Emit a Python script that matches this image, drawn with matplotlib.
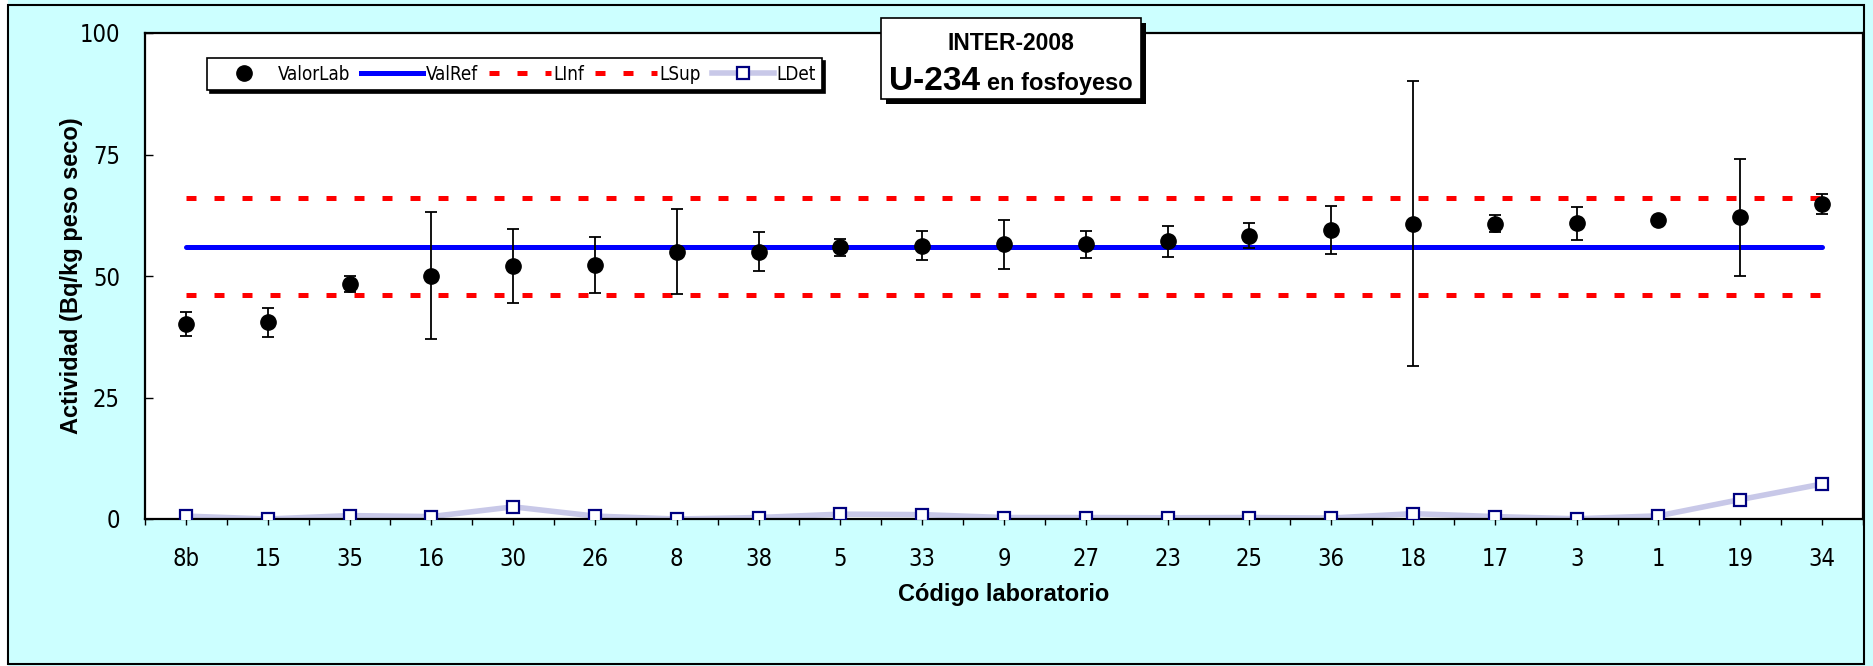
import matplotlib
matplotlib.use("Agg")
import matplotlib.pyplot as plt
from matplotlib import font_manager
from matplotlib.font_manager import FontProperties
from matplotlib.lines import Line2D
from matplotlib.patches import Rectangle
import numpy as np

labs = ["8b", "15", "35", "16", "30", "26", "8", "38", "5", "33", "9",
        "27", "23", "25", "36", "18", "17", "3", "1", "19", "34"]
valor_lab = [40.1, 40.5, 48.4, 50.1, 52.0, 52.3, 55.0, 55.0, 55.9, 56.2, 56.5,
             56.5, 57.1, 58.3, 59.5, 60.8, 60.8, 60.9, 61.5, 62.1, 64.8]
incert = [2.4, 3.0, 1.7, 13.0, 7.6, 5.7, 8.8, 4.0, 1.7, 3.0, 5.1,
          2.8, 3.2, 2.6, 4.9, 29.3, 1.7, 3.4, 0.5, 12.0, 2.1]
ldet = [0.6, 0.0, 0.7, 0.5, 2.5, 0.6, 0.0, 0.3, 1.0, 0.9, 0.3,
        0.3, 0.25, 0.3, 0.2, 1.1, 0.5, 0.05, 0.65, 4.0, 7.2]
val_ref = 56.0
l_inf = 46.0
l_sup = 66.0

plt.rcParams["font.family"] = ["Liberation Sans", "DejaVu Sans"]


def narrow_font(size):
    # look for an installed condensed sans (Arial Narrow look-alike)
    cands = [f for f in font_manager.fontManager.ttflist
             if f.stretch in ("condensed", "semi-condensed", "extra-condensed")
             and f.weight in (400, "normal", "regular") and f.style == "normal"]
    for pref in ("Liberation Sans Narrow", "Arial Narrow", "DejaVu Sans", "Roboto", "Open Sans", "Noto Sans"):
        for f in cands:
            if f.name.startswith(pref):
                return FontProperties(fname=f.fname, size=size)
    if cands:
        return FontProperties(fname=cands[0].fname, size=size)
    return None


W, H = 1874, 666
fig = plt.figure(figsize=(W / 100, H / 100), dpi=100, facecolor="white")
fig.patches.append(Rectangle((8 / W, 0.0), 1.0, 1.0, transform=fig.transFigure,
                             facecolor="#CCFFFF", edgecolor="none", zorder=-11))
fig.patches.append(Rectangle((8 / W, 2 / H), (1864 - 8) / W, 1 - 7 / H, transform=fig.transFigure,
                             facecolor="#CCFFFF", edgecolor="black", lw=1.5, zorder=-10))

ax = fig.add_axes([145 / W, 1 - 519 / H, (1863 - 145) / W, (519 - 33) / H])
ax.set_facecolor("white")
x = np.arange(len(labs))

ldet_col = "#C8C8E8"
ax.plot(x, ldet, color=ldet_col, lw=4, zorder=2)
ax.plot(x, ldet, ls="none", marker="s", ms=8.5, mfc="white", mec="#000080", mew=1.6, zorder=3)
ax.plot(x, [val_ref] * len(x), color="#0000FF", lw=3.6, solid_capstyle="round", zorder=4)
dash = (0, (2.0, 3.6))
ax.plot(x, [l_inf] * len(x), color="#FF0000", lw=3.6, ls=dash, zorder=4)
ax.plot(x, [l_sup] * len(x), color="#FF0000", lw=3.6, ls=dash, zorder=4)
ax.errorbar(x, valor_lab, yerr=incert, fmt="o", color="black", ms=11,
            ecolor="black", elinewidth=1.3, capsize=4.5, capthick=1.3, zorder=5)

ax.set_xlim(-0.5, len(labs) - 0.5)
ax.set_ylim(0, 100)
ax.set_yticks([0, 25, 50, 75, 100])
ax.set_xticks(x)
ax.set_xticks(np.arange(-0.5, len(labs)), minor=True)
ax.set_xticklabels(labs)

tick_fp = narrow_font(17)
for lb in ax.get_xticklabels() + ax.get_yticklabels():
    if tick_fp is not None:
        lb.set_fontproperties(tick_fp)
    else:
        lb.set_fontsize(15)
ax.tick_params(axis="y", direction="in", length=6, width=1, pad=18)
ax.tick_params(axis="x", which="both", direction="out", length=4, width=1, pad=16)
for s in ax.spines.values():
    s.set_linewidth(1.6)
    s.set_color("black")

fig.text(72 / W, 1 - 276 / H, "Actividad (Bq/kg peso seco)", rotation=90,
         fontsize=17, fontweight="bold", ha="center", va="center")
fig.text(1004 / W, 1 - 595 / H, "Código laboratorio", fontsize=17,
         fontweight="bold", ha="center", va="center")

# legend
leg_fp = narrow_font(13.5)
if leg_fp is None:
    leg_fp = FontProperties(family="Liberation Sans", size=11.5)
h_lab = Line2D([], [], ls="none", marker="o", ms=11, color="black")
h_ref = Line2D([], [], color="#0000FF", lw=3.6)
h_inf = Line2D([], [], color="#FF0000", lw=3.6, ls=dash)
h_sup = Line2D([], [], color="#FF0000", lw=3.6, ls=dash)
h_det = Line2D([], [], color=ldet_col, lw=4, marker="s", ms=8.5, mfc="white",
               mec="#000080", mew=1.6)
leg = ax.legend([h_lab, h_ref, h_inf, h_sup, h_det],
                ["ValorLab", "ValRef", "LInf", "LSup", "LDet"],
                ncol=5, loc="upper left",
                bbox_to_anchor=((207 - 145) / (1863 - 145), 1 - (58 - 33) / (519 - 33)),
                frameon=True, fancybox=False, shadow={"color": "black", "alpha": 1},
                borderaxespad=0, handlelength=3.3, handletextpad=0.12, columnspacing=0.6,
                borderpad=0.35, prop=leg_fp)
leg.get_frame().set_edgecolor("black")
leg.get_frame().set_linewidth(1.2)

# title box
bx0, by0, bx1, by1 = 881, 18, 1141, 99
fig.patches.append(Rectangle(((bx0 + 5) / W, 1 - (by1 + 5) / H), (bx1 - bx0) / W, (by1 - by0) / H,
                             transform=fig.transFigure, facecolor="black", edgecolor="none", zorder=10))
fig.patches.append(Rectangle((bx0 / W, 1 - by1 / H), (bx1 - bx0) / W, (by1 - by0) / H,
                             transform=fig.transFigure, facecolor="white", edgecolor="black", lw=1.2, zorder=11))
fig.text((bx0 + bx1) / 2 / W, 1 - 43 / H, "INTER-2008", fontsize=16.5, fontweight="bold",
         ha="center", va="center", zorder=12)
t1 = fig.text(889 / W, 1 - 90 / H, "U-234", fontsize=24, fontweight="bold",
              ha="left", va="baseline", zorder=12)
fig.canvas.draw()
bb = t1.get_window_extent()
fig.text((bb.x1 + 7) / W, 1 - 90 / H, "en fosfoyeso", fontsize=17, fontweight="bold",
         ha="left", va="baseline", zorder=12)

fig.savefig("out.png", dpi=100, facecolor=fig.get_facecolor())
